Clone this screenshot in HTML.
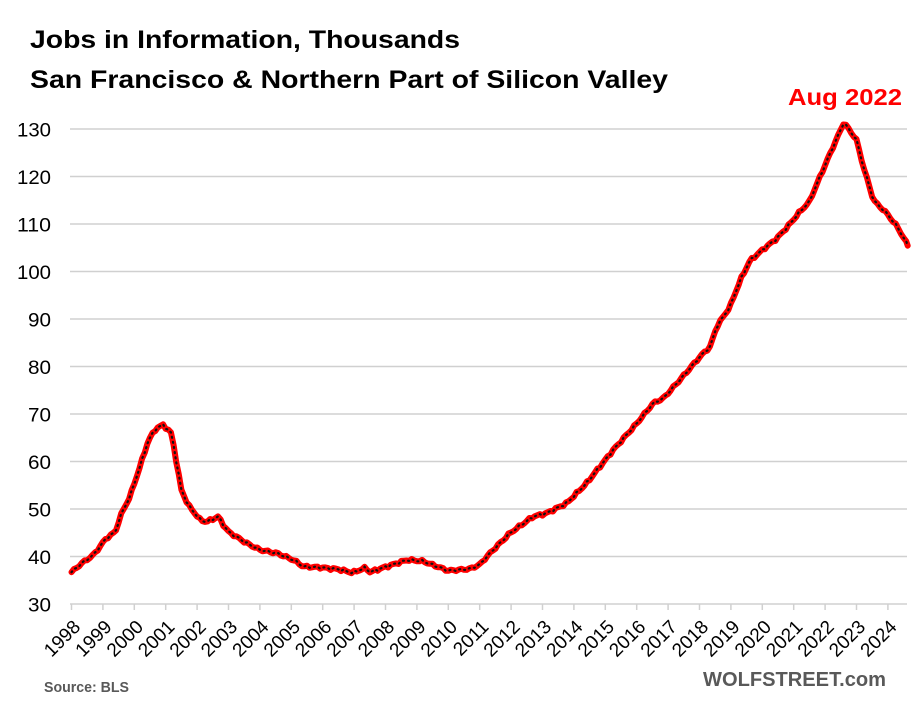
<!DOCTYPE html>
<html><head><meta charset="utf-8"><style>
html,body{margin:0;padding:0;background:#fff;}
svg{display:block;font-family:"Liberation Sans",sans-serif;}
</style></head><body>
<svg id="s" width="914" height="706" viewBox="0 0 914 706" xmlns="http://www.w3.org/2000/svg">
<text x="30" y="48" font-size="25" font-weight="bold" fill="#000" textLength="430" lengthAdjust="spacingAndGlyphs">Jobs in Information, Thousands</text>
<text x="30" y="88" font-size="25" font-weight="bold" fill="#000" textLength="638" lengthAdjust="spacingAndGlyphs">San Francisco &amp; Northern Part of Silicon Valley</text>
<text x="788" y="105" font-size="23" font-weight="bold" fill="#ff0000" textLength="114" lengthAdjust="spacingAndGlyphs">Aug 2022</text>
<g id="grid"></g>
<path id="red" fill="none" stroke="#ff0000" stroke-width="6" stroke-linejoin="round" stroke-linecap="round"/>
<path id="blk" fill="none" stroke="#111" stroke-width="2.2" stroke-dasharray="1 4.2" stroke-linecap="round"/>
<text x="44" y="692" font-size="15" font-weight="bold" fill="#595959" textLength="85" lengthAdjust="spacingAndGlyphs">Source: BLS</text>
<text x="703" y="686" font-size="20" font-weight="bold" fill="#595959" textLength="183" lengthAdjust="spacingAndGlyphs">WOLFSTREET.com</text>
</svg>
<script>
function X(yr){return 71.5+(yr-1998)*31.4;}
function Y(v){return 604-(v-30)*4.75;}
var g=document.getElementById('grid'),s="";
for(var v=30;v<=130;v+=10){var y=Y(v);
 s+='<line x1="70" x2="907" y1="'+y+'" y2="'+y+'" stroke="#d0d0d0" stroke-width="1.5"/>';
 var w=v>=100?34:23;
 s+='<text x="'+(51-w)+'" y="'+(y+7.5)+'" font-size="19" fill="#000" textLength="'+w+'" lengthAdjust="spacingAndGlyphs">'+v+'</text>';}
for(var yr=1998;yr<=2024;yr++){var x=X(yr);
 s+='<line x1="'+x+'" x2="'+x+'" y1="604" y2="610" stroke="#d0d0d0" stroke-width="1.5"/>';
 s+='<text transform="translate('+(x+10)+',628) rotate(-45)" font-size="19" text-anchor="end" fill="#000">'+yr+'</text>';}
g.innerHTML=s;
var K=[[1998,36.7],[1998.33,38.6],[1998.7,40.3],[1999.1,43.8],[1999.4,45.2],[1999.55,48.4],[1999.86,52.6],[2000.18,58.9],[2000.45,64.5],[2000.7,67],[2000.92,67.7],[2001.19,65.9],[2001.3,61.4],[2001.5,54],[2001.72,50.8],[2002.1,47.7],[2002.3,47.3],[2002.68,48.4],[2002.84,46.6],[2003.0,45.2],[2003.58,42.8],[2004.0,41.4],[2004.54,40.7],[2005.06,39.3],[2005.38,37.9],[2005.9,37.7],[2006.5,37.3],[2006.95,36.6],[2007.4,37.7],[2007.45,36.6],[2008.0,37.8],[2008.7,39.3],[2009.2,39],[2009.6,38],[2010.0,37],[2010.69,37.4],[2011.0,38.3],[2011.33,40.7],[2011.96,44.9],[2012.7,48.4],[2013.13,49.1],[2013.77,51.2],[2014.4,55.4],[2015.25,62.4],[2016.0,68.0],[2016.53,72.3],[2016.85,73.3],[2017.38,77.2],[2018.02,82.1],[2018.34,84.2],[2018.55,88.4],[2018.97,92.6],[2019.3,98.2],[2019.6,102.2],[2019.94,104.2],[2020.47,107],[2020.8,109.4],[2021.2,112.6],[2021.5,114.7],[2021.84,120],[2022.26,126.3],[2022.6,131.4],[2023.0,127.7],[2023.22,122.1],[2023.54,115],[2023.97,112.2],[2024.3,109.4],[2024.63,105.6]];
function val(t){for(var i=0;i<K.length-1;i++){if(t<=K[i+1][0]){var a=K[i],b=K[i+1];return a[1]+(b[1]-a[1])*(t-a[0])/(b[0]-a[0]);}}return K[K.length-1][1];}
var d="";for(var m=0;m<=320;m++){var t=1998+m/12;if(t>2024.63)t=2024.63;var w=0.2*Math.sin(m*1.7)+0.1*Math.sin(m*3.1);
 d+=(m?"L":"M")+X(t).toFixed(1)+","+Y(val(t)+w).toFixed(1);}
document.getElementById('red').setAttribute('d',d);
document.getElementById('blk').setAttribute('d',d);
</script>
</body></html>
